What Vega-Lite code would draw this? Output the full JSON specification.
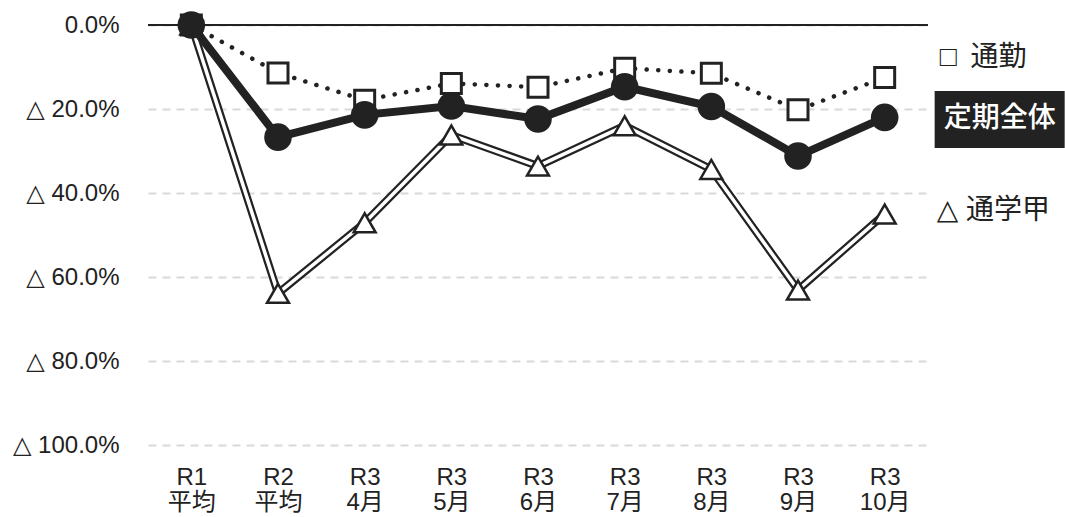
{
  "$schema": "https://vega.github.io/schema/vega-lite/v6.json",
  "width": 780,
  "height": 420,
  "autosize": "none",
  "padding": {"left": 148, "top": 25, "right": 137, "bottom": 72},
  "background": "white",
  "config": {
    "view": {"stroke": null},
    "font": "Liberation Sans, Noto Sans CJK JP, sans-serif"
  },
  "datasets": {
    "main": [
      {"period": "R1 平均", "series": "定期全体", "value": 0},
      {"period": "R2 平均", "series": "定期全体", "value": -26.7},
      {"period": "R3 4月", "series": "定期全体", "value": -21.4},
      {"period": "R3 5月", "series": "定期全体", "value": -19.3},
      {"period": "R3 6月", "series": "定期全体", "value": -22.4},
      {"period": "R3 7月", "series": "定期全体", "value": -14.7},
      {"period": "R3 8月", "series": "定期全体", "value": -19.4},
      {"period": "R3 9月", "series": "定期全体", "value": -31.2},
      {"period": "R3 10月", "series": "定期全体", "value": -22.0},
      {"period": "R1 平均", "series": "通勤", "value": 0},
      {"period": "R2 平均", "series": "通勤", "value": -11.4},
      {"period": "R3 4月", "series": "通勤", "value": -17.9},
      {"period": "R3 5月", "series": "通勤", "value": -13.9},
      {"period": "R3 6月", "series": "通勤", "value": -14.8},
      {"period": "R3 7月", "series": "通勤", "value": -10.3},
      {"period": "R3 8月", "series": "通勤", "value": -11.5},
      {"period": "R3 9月", "series": "通勤", "value": -20.2},
      {"period": "R3 10月", "series": "通勤", "value": -12.5},
      {"period": "R1 平均", "series": "通学甲", "value": 0},
      {"period": "R2 平均", "series": "通学甲", "value": -63.9},
      {"period": "R3 4月", "series": "通学甲", "value": -47.1},
      {"period": "R3 5月", "series": "通学甲", "value": -26.2},
      {"period": "R3 6月", "series": "通学甲", "value": -33.6},
      {"period": "R3 7月", "series": "通学甲", "value": -24.0},
      {"period": "R3 8月", "series": "通学甲", "value": -34.4},
      {"period": "R3 9月", "series": "通学甲", "value": -63.1},
      {"period": "R3 10月", "series": "通学甲", "value": -45.0}
    ],
    "zero": [{"value": 0}]
  },
  "data": {"name": "main"},
  "encoding": {
    "x": {
      "field": "period",
      "type": "ordinal",
      "sort": null,
      "scale": {"type": "point", "padding": 0.5},
      "axis": {
        "title": null,
        "domain": false,
        "ticks": false,
        "labelAngle": 0,
        "labelExpr": "split(datum.label, ' ')",
        "labelFontSize": 24,
        "labelLineHeight": 25,
        "labelPadding": 20,
        "labelColor": "#222222",
        "labelFont": "Liberation Sans, Noto Sans CJK JP"
      }
    },
    "y": {
      "field": "value",
      "type": "quantitative",
      "scale": {"domain": [-100, 0], "nice": false, "zero": false},
      "axis": {
        "title": null,
        "domain": false,
        "ticks": false,
        "values": [0, -20, -40, -60, -80, -100],
        "labelExpr": "datum.value == 0 ? '0.0%' : '△ ' + format(-datum.value, '.1f') + '%'",
        "labelFontSize": 24,
        "labelPadding": 29,
        "labelColor": "#222222",
        "labelFont": "Liberation Sans, DejaVu Sans",
        "grid": true,
        "gridColor": "#d9d9d9",
        "gridDash": [8, 6],
        "gridWidth": 2
      }
    }
  },
  "layer": [
    {
      "data": {"name": "zero"},
      "mark": {"type": "rule", "color": "#222222", "strokeWidth": 2},
      "encoding": {"y": {"field": "value", "type": "quantitative"}, "x": null}
    },
    {
      "transform": [{"filter": "datum.series == '通学甲'"}],
      "mark": {"type": "line", "color": "#222222", "strokeWidth": 8, "strokeJoin": "miter"}
    },
    {
      "transform": [{"filter": "datum.series == '通学甲'"}],
      "mark": {"type": "line", "color": "#ffffff", "strokeWidth": 3.5, "strokeJoin": "miter"}
    },
    {
      "transform": [{"filter": "datum.series == '通学甲'"}],
      "mark": {"type": "point", "shape": "triangle-up", "filled": true, "fill": "#ffffff", "stroke": "#222222", "strokeWidth": 2.5, "size": 480, "opacity": 1}
    },
    {
      "transform": [{"filter": "datum.series == '通勤'"}],
      "mark": {"type": "line", "color": "#222222", "strokeWidth": 4.5, "strokeCap": "round", "strokeDash": [0.1, 11.5]}
    },
    {
      "transform": [{"filter": "datum.series == '通勤'"}],
      "mark": {"type": "point", "shape": "square", "filled": true, "fill": "#ffffff", "stroke": "#222222", "strokeWidth": 3, "size": 400, "opacity": 1}
    },
    {
      "transform": [{"filter": "datum.series == '定期全体'"}],
      "mark": {"type": "line", "color": "#222222", "strokeWidth": 8}
    },
    {
      "transform": [{"filter": "datum.series == '定期全体'"}],
      "mark": {"type": "point", "shape": "circle", "filled": true, "color": "#222222", "size": 760, "opacity": 1}
    },
    {
      "transform": [{"filter": "datum.series == '定期全体' && datum.period == 'R3 10月'"}],
      "mark": {"type": "point", "shape": "M1.754,-0.93H6.316V1.07H1.754Z", "filled": true, "color": "#222222", "size": 3249, "opacity": 1}
    },
    {
      "transform": [{"filter": "datum.series == '定期全体' && datum.period == 'R3 10月'"}],
      "mark": {"type": "text", "align": "center", "baseline": "middle", "dx": 115, "dy": 2, "fontSize": 28, "fontWeight": 500, "color": "#ffffff", "font": "Noto Sans CJK JP"},
      "encoding": {"text": {"field": "series"}}
    },
    {
      "transform": [{"filter": "datum.series == '通勤' && datum.period == 'R3 10月'"}],
      "mark": {"type": "text", "align": "left", "baseline": "middle", "dx": 55, "dy": -20, "fontSize": 28, "color": "#222222", "font": "Liberation Sans, Noto Sans CJK JP"},
      "encoding": {"text": {"value": "□\u2002通勤"}}
    },
    {
      "transform": [{"filter": "datum.series == '通学甲' && datum.period == 'R3 10月'"}],
      "mark": {"type": "text", "align": "left", "baseline": "middle", "dx": 52, "dy": -3, "fontSize": 28, "color": "#222222", "font": "Liberation Sans, DejaVu Sans, Noto Sans CJK JP"},
      "encoding": {"text": {"value": "△ 通学甲"}}
    }
  ]
}
